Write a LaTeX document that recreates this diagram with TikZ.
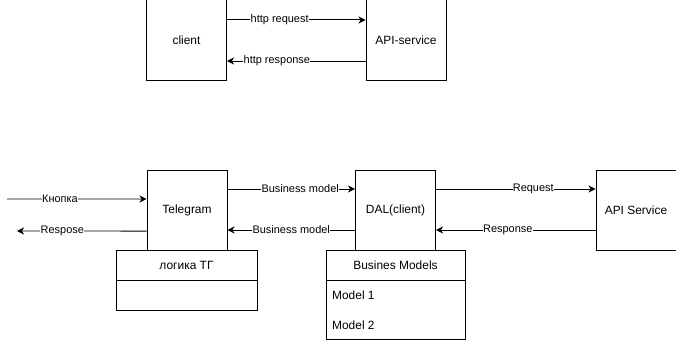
\documentclass[tikz,border=0pt]{standalone}
\usepackage{fontspec}
\setmainfont{Liberation Sans}
\usetikzlibrary{arrows.meta}

\begin{document}
\begin{tikzpicture}[x=0.03cm,y=-0.03cm]
\tikzset{box/.style = {shape=rectangle,draw,line width=0.85pt,minimum width=2.4cm,minimum height=2.4cm,font=\fontsize{10.2}{12}\selectfont}}
\tikzset{cell/.style = {shape=rectangle,draw,line width=0.85pt,minimum height=0.9cm,font=\fontsize{10.2}{12}\selectfont}}
\tikzset{edge/.style = {->,> = {Stealth[length=6pt,width=6pt,inset=1.8pt]},line width=0.85pt}}
\tikzset{lbl/.style = {fill=white,inner sep=0.3pt,font=\fontsize{9.35}{11}\selectfont}}
\useasboundingbox (0,0) rectangle (676,341);
% vertices
\node[box] (client) at  (186.5,40) {client};
\node[box] (api) at  (406,40) {API-service};
\node[box] (tg) at  (187,210) {Telegram};
\node[box] (dal) at  (395.5,210) {DAL(client)};
\node[box] (apisrv) at  (636,210) {API Service};
% tables under the boxes
\node[cell,minimum width=4.23cm] (logic) at  (186.5,265.5) {логика ТГ};
\node[cell,minimum width=4.23cm] (logicbody) at  (186.5,295.5) {};
\node[cell,minimum width=4.17cm] (models) at  (395.5,265.5) {Busines Models};
\node[cell,minimum width=4.17cm,minimum height=1.77cm] (modelsbody) at  (395.5,310) {};
\node[anchor=west,font=\fontsize{10.2}{12}\selectfont] (m1) at  (328,295) {Model 1};
\node[anchor=west,font=\fontsize{10.2}{12}\selectfont] (m2) at  (328,325) {Model 2};
% free ends
\coordinate (kin) at (7,199);
\coordinate (kout) at (17,231);
%edges
\draw[edge] ([yshift=0.6cm]client.east) -- node[lbl,pos=0.38] {http request} ([yshift=0.6cm]api.west);
\draw[edge] ([yshift=-0.63cm]api.west) -- node[lbl,pos=0.64] {http response} ([yshift=-0.63cm]client.east);
\draw[edge] (kin) -- node[lbl,pos=0.38] {Кнопка} ([yshift=0.33cm]tg.west);
\draw[edge] ([yshift=-0.63cm]tg.west) -- node[lbl,pos=0.65] {Respose} (kout);
\draw[edge] ([yshift=0.63cm]tg.east) -- node[lbl,pos=0.57] {Business model} ([yshift=0.63cm]dal.west);
\draw[edge] ([yshift=-0.6cm]dal.west) -- node[lbl,pos=0.5] {Business model} ([yshift=-0.6cm]tg.east);
\draw[edge] ([yshift=0.63cm]dal.east) -- node[lbl,pos=0.61] {Request} ([yshift=0.63cm]apisrv.west);
\draw[edge] ([yshift=-0.6cm]apisrv.west) -- node[lbl,pos=0.55] {Response} ([yshift=-0.6cm]dal.east);
\end{tikzpicture}
\end{document}
